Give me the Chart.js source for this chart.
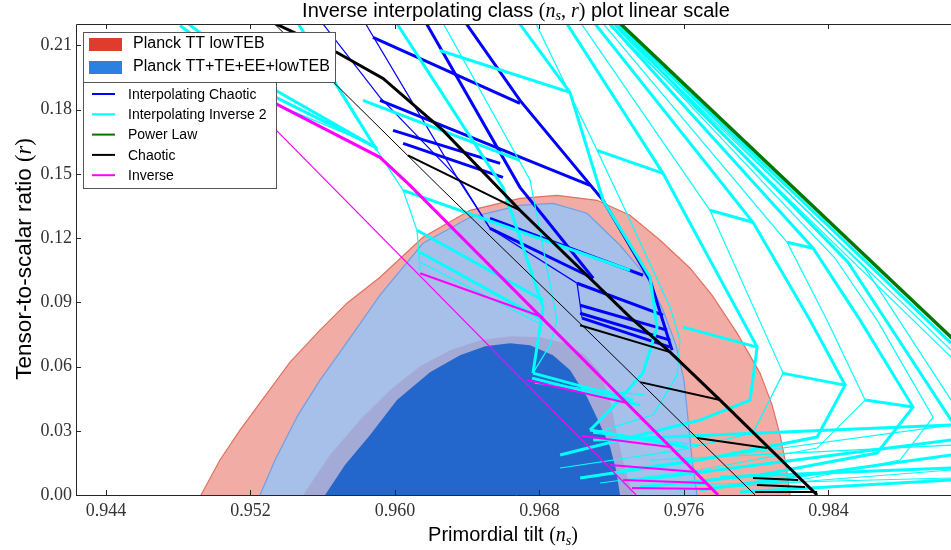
<!DOCTYPE html>
<html>
<head>
<meta charset="utf-8">
<title>Inverse interpolating class</title>
<script src="https://cdn.jsdelivr.net/npm/chart.js@4.4.1/dist/chart.umd.min.js"></script>
<style>
  html, body { margin: 0; padding: 0; background: #fff; overflow: hidden; }
  #box { width: 956px; height: 550px; }
</style>
</head>
<body>
<div id="box"><canvas id="plot" width="956" height="550"></canvas></div>
<script>
// axis ranges and ticks (n_s on x, r on y)
const xMin = 0.94234, xMax = 0.99106;
const yMin = 0, yMax = 0.22;
const xTicks = [0.944, 0.952, 0.960, 0.968, 0.976, 0.984];
const yTicks = [0, 0.03, 0.06, 0.09, 0.12, 0.15, 0.18, 0.21];

// Planck contours, outlines as [n_s, r]
const planckTT95 = [[0.94926,0],[0.95031,0.01633],[0.95142,0.03033],[0.95264,0.04433],[0.95419,0.06206],[0.95585,0.07699],[0.95734,0.08959],[0.95917,0.10172],[0.96155,0.12038],[0.96416,0.13298],[0.96692,0.13858],[0.96897,0.13998],[0.97119,0.13765],[0.97301,0.13065],[0.97468,0.11898],[0.97634,0.10592],[0.97755,0.09332],[0.97894,0.07559],[0.98021,0.05693],[0.98088,0.04199],[0.98132,0.02800],[0.98165,0.01400],[0.98187,0]];
const planckAll95 = [[0.95253,0],[0.95336,0.01633],[0.95463,0.03733],[0.95585,0.05366],[0.95723,0.06999],[0.95917,0.09332],[0.96155,0.11758],[0.96416,0.12971],[0.96692,0.13531],[0.96875,0.13625],[0.97063,0.13158],[0.97246,0.11665],[0.97396,0.10172],[0.97484,0.08632],[0.97556,0.06999],[0.97600,0.05366],[0.97623,0.03500],[0.97645,0.01633],[0.97672,0]];
const planckTT68 = [[0.95491,0],[0.95640,0.01866],[0.95806,0.03500],[0.95973,0.04899],[0.96139,0.06019],[0.96305,0.06766],[0.96471,0.07232],[0.96637,0.07419],[0.96803,0.07372],[0.96942,0.07092],[0.97052,0.06532],[0.97135,0.05739],[0.97191,0.04433],[0.97224,0.03033],[0.97268,0.01400],[0.97318,0]];
const planckAll68 = [[0.95613,0],[0.95723,0.01400],[0.95862,0.02800],[0.96011,0.04433],[0.96194,0.05739],[0.96360,0.06532],[0.96499,0.06952],[0.96637,0.07092],[0.96748,0.06999],[0.96875,0.06532],[0.96969,0.05833],[0.97063,0.04573],[0.97124,0.03500],[0.97191,0.02240],[0.97224,0.01167],[0.97246,0]];

// power law
const powerLaw = [[0.9720,0.2240],[0.9915,0.0680]];

// chaotic: N=60 (thick), N=50 (thin), same-p links
const chaoticN60 = [[0.95264,0.22303],[0.95679,0.20670],[0.95934,0.19457],[0.96266,0.17031],[0.96692,0.13298],[0.97301,0.08305],[0.97523,0.06672],[0.97800,0.04433],[0.98337,0]];
const chaoticN50 = [[0.95297,0.22303],[0.96249,0.14371],[0.97063,0.07699],[0.97994,0]];
const chaoticLinks = [
  [[0.96072,0.15864],[0.96692,0.13298]],
  [[0.97025,0.07932],[0.97523,0.06672]],
  [[0.97357,0.05273],[0.97800,0.04433]],
  [[0.97672,0.02660],[0.98060,0.02193]],
  [[0.97982,0.00793],[0.98232,0.00700]],
  [[0.98004,0.00467],[0.98270,0.00373]],
  [[0.97994,0.0014],[0.98337,0.0014]]
];

// inverse
const inverseThick = [[0.95197,0.18897],[0.95917,0.15771],[0.96083,0.14465],[0.97789,0]];
const inverseThin = [[0.95087,0.19224],[0.97335,0]];
const inverseLinks = [
  [[0.96139,0.10359],[0.96820,0.08305]],
  [[0.96731,0.05366],[0.97285,0.04293]],
  [[0.97036,0.02753],[0.97523,0.02240]],
  [[0.97191,0.01400],[0.97672,0.01073]],
  [[0.97263,0.00700],[0.97717,0.00560]],
  [[0.97312,0.00327],[0.97755,0.00280]]
];

// interpolating chaotic
const interpChaoticThick = [
  [[0.96371,0.22303],[0.96692,0.18431],[0.97152,0.13765],[0.97412,0.10032],[0.97534,0.06766]],
  [[0.96155,0.22303],[0.96692,0.14371],[0.96831,0.12925],[0.97097,0.10125]],
  [[0.95878,0.21370],[0.96692,0.18291]],
  [[0.95917,0.18431],[0.97080,0.14465]],
  [[0.95989,0.17031],[0.96582,0.15491]],
  [[0.96045,0.16424],[0.96598,0.14838]],
  [[0.96526,0.12925],[0.97373,0.10265]],
  [[0.96526,0.12458],[0.97097,0.10125]],
  [[0.97008,0.09892],[0.97484,0.08399]],
  [[0.97025,0.08865],[0.97506,0.07699]],
  [[0.97025,0.08492],[0.97523,0.07232]],
  [[0.97036,0.08259],[0.97523,0.06906]]
];
const interpChaoticThin = [
  [[0.95574,0.22303],[0.95917,0.18571],[0.96360,0.14698],[0.96526,0.12458],[0.97008,0.09892],[0.97036,0.08259]],
  [[0.95817,0.22303],[0.96343,0.14838],[0.96526,0.12458]]
];

// interpolating inverse 2
const interpInverseThick = [
  [[0.95419,0.22630],[0.95901,0.16098]],
  [[0.94810,0.22303],[0.95341,0.18897],[0.95901,0.16191]],
  [[0.94810,0.21930],[0.95341,0.18571],[0.95873,0.16331]],
  [[0.95823,0.18431],[0.96692,0.15631]],
  [[0.96045,0.14231],[0.97301,0.10499]],
  [[0.96122,0.12365],[0.96820,0.09099]],
  [[0.96139,0.11338],[0.96820,0.08166]],
  [[0.95989,0.22303],[0.96598,0.14371],[0.96820,0.08772],[0.96764,0.05693]],
  [[0.96764,0.05693],[0.97318,0.04433]],
  [[0.96759,0.05459],[0.97357,0.04199]],
  [[0.96665,0.22303],[0.96969,0.18804],[0.97152,0.13765],[0.97412,0.10172],[0.97451,0.07839],[0.97373,0.05693],[0.97191,0.03966],[0.97080,0.03033]],
  [[0.96249,0.20764],[0.96969,0.18804]],
  [[0.97119,0.16098],[0.97484,0.15024]],
  [[0.97080,0.03033],[0.97617,0.02240]],
  [[0.96930,0.22303],[0.97484,0.15024],[0.98005,0.06906],[0.97966,0.04433],[0.97689,0.03500],[0.96914,0.01866]],
  [[0.97595,0.07839],[0.98005,0.06906]],
  [[0.97744,0.13298],[0.97982,0.12738]],
  [[0.97080,0.22303],[0.97982,0.12738],[0.98298,0.08166],[0.98492,0.05133],[0.98337,0.02706],[0.97689,0.01633],[0.97025,0.00793]],
  [[0.98143,0.05693],[0.98492,0.05133]],
  [[0.98171,0.11805],[0.98315,0.11525]],
  [[0.97157,0.22303],[0.98315,0.11525],[0.98575,0.08166],[0.98868,0.04106],[0.98669,0.01960],[0.98021,0.00933],[0.97357,0.00373]],
  [[0.98603,0.04433],[0.98868,0.04106]],
  [[0.97185,0.22303],[0.98508,0.10872],[0.99079,0.03500],[0.99200,0.02000]],
  [[0.97191,0.22303],[0.99079,0.07092]],
  [[0.97689,0.00233],[0.99079,0.01866]],
  [[0.97911,0.00140],[0.99079,0.00700]],
  [[0.97357,0.00700],[0.99079,0.02566]],
  [[0.97097,0.02566],[0.99079,0.03266]],
  [[0.97800,0.00840],[0.99079,0.01260]]
];
const interpInverseThin = [
  [[0.95901,0.16098],[0.96045,0.14231],[0.96122,0.12365],[0.96139,0.10499]],
  [[0.94810,0.21557],[0.95341,0.18244],[0.95845,0.16471]],
  [[0.96139,0.10872],[0.96820,0.07932]],
  [[0.96249,0.22303],[0.96748,0.14698],[0.96897,0.08166],[0.96858,0.06999],[0.96764,0.05693]],
  [[0.96775,0.05226],[0.97384,0.04666]],
  [[0.96764,0.22303],[0.97119,0.16098],[0.97301,0.12832],[0.97523,0.08772],[0.97578,0.07232],[0.97562,0.05599],[0.97429,0.03733],[0.97097,0.02893]],
  [[0.97097,0.02893],[0.97689,0.02333]],
  [[0.97008,0.22303],[0.97706,0.13765],[0.97744,0.13298],[0.98149,0.05693],[0.97982,0.02893],[0.97578,0.02100],[0.96914,0.01260]],
  [[0.97124,0.22303],[0.98171,0.11805],[0.98392,0.08166],[0.98603,0.04433],[0.98337,0.02193],[0.97689,0.01167],[0.97135,0.00560]],
  [[0.97174,0.22303],[0.98437,0.11058],[0.98669,0.08166],[0.98979,0.03639],[0.98796,0.01633],[0.98243,0.00700],[0.97578,0.00233]],
  [[0.97196,0.22303],[0.98603,0.10592],[0.99079,0.04433]],
  [[0.97169,0.22303],[0.99079,0.06766]],
  [[0.97146,0.22303],[0.99079,0.06439]],
  [[0.97800,0.00327],[0.99079,0.01167]],
  [[0.97246,0.01167],[0.99079,0.03266]],
  [[0.97412,0.01633],[0.99079,0.02333]],
  [[0.97578,0.00467],[0.99079,0.00793]]
];

// colours
const cBlue = '#0000ff', cCyan = '#00ffff', cGreen = '#007800', cBlack = '#000000', cMagenta = '#ff00ff';

function toXY(pts) { return pts.map(p => ({x: p[0], y: p[1]})); }

function lineSet(pts, color, width, order) {
  return {
    data: toXY(pts), showLine: true, fill: false, tension: 0,
    borderColor: color, borderWidth: width, pointRadius: 0,
    order: order, clip: 0
  };
}

function areaSet(pts, fillColor, edgeColor, order) {
  return {
    data: toXY(pts), showLine: true, fill: 'shape', tension: 0,
    backgroundColor: fillColor, borderColor: edgeColor || fillColor,
    borderWidth: edgeColor ? 1.2 : 0, pointRadius: 0, order: order, clip: 0
  };
}

const datasets = [];
datasets.push(areaSet(planckTT95, '#f1ada5', '#e2705f', 40));
datasets.push(areaSet(planckAll95, '#a6c0ea', '#6e9fe6', 39));
datasets.push(areaSet(planckTT68, '#a4aad6', null, 38));
datasets.push(areaSet(planckAll68, '#2366cc', null, 37));
interpChaoticThin.forEach(l => datasets.push(lineSet(l, cBlue, 1.2, 20)));
interpChaoticThick.forEach(l => datasets.push(lineSet(l, cBlue, 3, 20)));
interpInverseThin.forEach(l => datasets.push(lineSet(l, cCyan, 1.2, 15)));
interpInverseThick.forEach(l => datasets.push(lineSet(l, cCyan, 3, 15)));
datasets.push(lineSet(powerLaw, cGreen, 3.5, 10));
datasets.push(lineSet(chaoticN50, cBlack, 1, 5));
datasets.push(lineSet(chaoticN60, cBlack, 3, 5));
chaoticLinks.forEach(l => datasets.push(lineSet(l, cBlack, 2, 5)));
datasets.push(lineSet(inverseThin, cMagenta, 1.2, 1));
datasets.push(lineSet(inverseThick, cMagenta, 3, 1));
inverseLinks.forEach(l => datasets.push(lineSet(l, cMagenta, 2, 1)));

const sans = '"Liberation Sans", Arial, sans-serif';
const serif = '"Liberation Serif", "DejaVu Serif", serif';

// draw a run of text pieces centred on (cx, cy)
function drawPieces(ctx, pieces, cx, cy) {
  let w = 0;
  pieces.forEach(p => { ctx.font = p.font; p.w = ctx.measureText(p.t).width; w += p.w; });
  let x = cx - w / 2;
  ctx.textBaseline = 'alphabetic';
  ctx.textAlign = 'left';
  pieces.forEach(p => { ctx.font = p.font; ctx.fillText(p.t, x, cy + (p.dy || 0)); x += p.w; });
}

const decor = {
  id: 'decor',
  afterDraw(chart) {
    const {ctx, chartArea: a, scales: {x, y}} = chart;
    ctx.save();
    ctx.strokeStyle = '#262626';
    ctx.lineWidth = 1;
    // axes frame
    ctx.beginPath();
    ctx.moveTo(a.right, a.top + 0.5);
    ctx.lineTo(a.left + 0.5, a.top + 0.5);
    ctx.lineTo(a.left + 0.5, a.bottom + 0.5);
    ctx.lineTo(a.right, a.bottom + 0.5);
    ctx.stroke();
    // inward ticks
    ctx.beginPath();
    xTicks.forEach(v => {
      const px = Math.round(x.getPixelForValue(v)) + 0.5;
      ctx.moveTo(px, a.bottom); ctx.lineTo(px, a.bottom - 5);
      ctx.moveTo(px, a.top); ctx.lineTo(px, a.top + 5);
    });
    yTicks.forEach(v => {
      const py = Math.round(y.getPixelForValue(v)) + 0.5;
      ctx.moveTo(a.left, py); ctx.lineTo(a.left + 5, py);
    });
    ctx.stroke();

    // title
    ctx.fillStyle = '#000';
    drawPieces(ctx, [
      {t: 'Inverse interpolating class ', font: '20px ' + sans},
      {t: '(', font: '20px ' + serif},
      {t: 'n', font: 'italic 20px ' + serif},
      {t: 's', font: 'italic 14px ' + serif, dy: 3},
      {t: ', ', font: '20px ' + serif},
      {t: 'r', font: 'italic 20px ' + serif},
      {t: ')', font: '20px ' + serif},
      {t: ' plot linear scale', font: '20px ' + sans}
    ], 516, 17);

    // axis titles
    drawPieces(ctx, [
      {t: 'Primordial tilt ', font: '20px ' + sans},
      {t: '(', font: '20px ' + serif},
      {t: 'n', font: 'italic 20px ' + serif},
      {t: 's', font: 'italic 14px ' + serif, dy: 4},
      {t: ')', font: '20px ' + serif}
    ], 503, 541);
    ctx.save();
    ctx.translate(31, 259);
    ctx.rotate(-Math.PI / 2);
    drawPieces(ctx, [
      {t: 'Tensor-to-scalar ratio ', font: '22.5px ' + sans},
      {t: '(', font: '22.5px ' + serif},
      {t: 'r', font: 'italic 22.5px ' + serif},
      {t: ')', font: '22.5px ' + serif}
    ], 0, 0);
    ctx.restore();

    // legend: contour patches
    ctx.fillStyle = '#fff';
    ctx.strokeStyle = '#555';
    ctx.fillRect(83, 32, 252, 50);
    ctx.strokeRect(83.5, 32.5, 252, 50);
    ctx.fillStyle = '#e03b2c';
    ctx.fillRect(89, 38, 33, 13);
    ctx.fillStyle = '#2b80e2';
    ctx.fillRect(89, 61, 33, 13);
    ctx.fillStyle = '#000';
    ctx.font = '16px ' + sans;
    ctx.textBaseline = 'middle';
    ctx.fillText('Planck TT lowTEB', 133, 44);
    ctx.fillText('Planck TT+TE+EE+lowTEB', 133, 67);

    // legend: model lines
    ctx.fillStyle = '#fff';
    ctx.fillRect(83, 82, 193, 106);
    ctx.strokeRect(83.5, 82.5, 193, 106);
    const entries = [
      ['Interpolating Chaotic', cBlue],
      ['Interpolating Inverse 2', cCyan],
      ['Power Law', cGreen],
      ['Chaotic', cBlack],
      ['Inverse', cMagenta]
    ];
    ctx.font = '14px ' + sans;
    entries.forEach((e, i) => {
      const ly = 94 + i * 20.3;
      ctx.strokeStyle = e[1];
      ctx.lineWidth = 2;
      ctx.beginPath();
      ctx.moveTo(92, ly); ctx.lineTo(115, ly);
      ctx.stroke();
      ctx.fillStyle = '#000';
      ctx.fillText(e[0], 128, ly + 1);
    });
    ctx.restore();
  }
};

new Chart(document.getElementById('plot'), {
  type: 'scatter',
  data: { datasets: datasets },
  options: {
    responsive: false,
    animation: false,
    events: [],
    layout: { padding: { top: 24, right: 0, bottom: 0, left: 0 } },
    plugins: { legend: { display: false }, tooltip: { enabled: false } },
    scales: {
      x: {
        type: 'linear', min: xMin, max: xMax,
        grid: { display: false, drawTicks: false },
        border: { display: false },
        afterBuildTicks: s => { s.ticks = xTicks.map(v => ({value: v})); },
        afterFit: s => { s.height = 55; },
        ticks: {
          callback: v => v.toFixed(3), autoSkip: false, maxRotation: 0,
          font: { family: serif, size: 18 }, color: '#333', padding: 5
        }
      },
      y: {
        type: 'linear', min: yMin, max: yMax,
        grid: { display: false, drawTicks: false },
        border: { display: false },
        afterBuildTicks: s => { s.ticks = yTicks.map(v => ({value: v})); },
        afterFit: s => { s.width = 76; },
        ticks: {
          callback: v => v.toFixed(2), autoSkip: false,
          font: { family: serif, size: 18 }, color: '#333', padding: 4
        }
      }
    }
  },
  plugins: [decor]
});
</script>
</body>
</html>
